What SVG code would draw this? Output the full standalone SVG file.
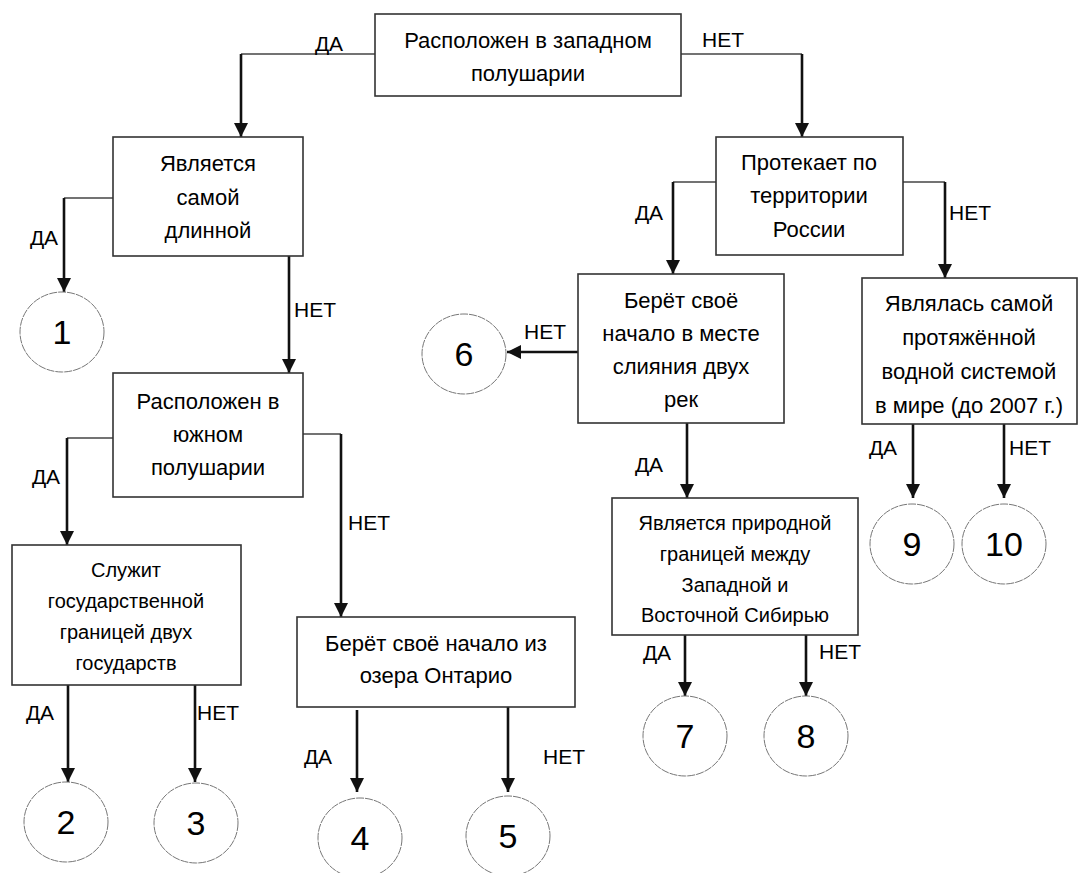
<svg xmlns="http://www.w3.org/2000/svg" width="1081" height="873" viewBox="0 0 1081 873">
<style>
.box{fill:#fff;stroke:#333;stroke-width:1.6}
.circ{fill:#fff;stroke:#777;stroke-width:1;stroke-dasharray:8 1}
.t{font-family:"Liberation Sans",Arial,sans-serif;font-size:22px;fill:#000;text-anchor:middle}
.ts{font-family:"Liberation Sans",Arial,sans-serif;font-size:20px;fill:#000;text-anchor:middle}
.lbl{font-family:"Liberation Sans",Arial,sans-serif;font-size:21px;fill:#000;text-anchor:middle}
.num{font-family:"Liberation Sans",Arial,sans-serif;font-size:34px;fill:#000;text-anchor:middle}
.h{fill:none;stroke:#444;stroke-width:1.6}
.v{fill:none;stroke:#111;stroke-width:2.6;marker-end:url(#ah)}
</style>
<defs>
<marker id="ah" markerUnits="userSpaceOnUse" markerWidth="14" markerHeight="14" viewBox="0 0 14 14" refX="14" refY="7" orient="auto">
<path d="M0,0 L14,7 L0,14 z" fill="#111"/>
</marker>
</defs>
<rect width="1081" height="873" fill="#fff"/>

<g id="connectors">
<path class="h" d="M375,54 H241"/><path class="v" d="M241,54 V137"/>
<path class="h" d="M681,54 H802"/><path class="v" d="M802,54 V137"/>
<path class="h" d="M113,198 H64"/><path class="v" d="M64,198 V292"/>
<path class="v" d="M289,256 V373"/>
<path class="h" d="M113,438 H67"/><path class="v" d="M67,438 V545"/>
<path class="h" d="M303,434 H341"/><path class="v" d="M341,434 V617"/>
<path class="v" d="M68,685 V782"/>
<path class="v" d="M195,685 V782"/>
<path class="v" d="M357,710 V792"/>
<path class="v" d="M508,707 V792"/>
<path class="h" d="M716,182 H673"/><path class="v" d="M673,182 V274"/>
<path class="h" d="M903,182 H945"/><path class="v" d="M945,182 V278"/>
<path class="v" d="M578,352 H507"/>
<path class="v" d="M687,423 V498"/>
<path class="v" d="M685,635 V696"/>
<path class="v" d="M806,635 V696"/>
<path class="v" d="M913,424 V498"/>
<path class="v" d="M1004,424 V498"/>
<text class="lbl" x="329" y="51">ДА</text>
<text class="lbl" x="723" y="47">НЕТ</text>
<text class="lbl" x="44" y="245">ДА</text>
<text class="lbl" x="315" y="317">НЕТ</text>
<text class="lbl" x="46" y="484">ДА</text>
<text class="lbl" x="369" y="530">НЕТ</text>
<text class="lbl" x="40" y="720">ДА</text>
<text class="lbl" x="218" y="720">НЕТ</text>
<text class="lbl" x="318" y="764">ДА</text>
<text class="lbl" x="564" y="764">НЕТ</text>
<text class="lbl" x="649" y="220">ДА</text>
<text class="lbl" x="970" y="220">НЕТ</text>
<text class="lbl" x="545" y="339">НЕТ</text>
<text class="lbl" x="649" y="472">ДА</text>
<text class="lbl" x="657" y="660">ДА</text>
<text class="lbl" x="840" y="659">НЕТ</text>
<text class="lbl" x="883" y="455">ДА</text>
<text class="lbl" x="1030" y="455">НЕТ</text>
</g>

<g id="n-west">
<rect class="box" x="375" y="14" width="306" height="82"/>
<text class="t" x="528" y="48">Расположен в западном</text>
<text class="t" x="528" y="81">полушарии</text>
</g>

<g id="n-longest">
<rect class="box" x="113" y="137" width="190" height="119"/>
<text class="t" x="208" y="171">Является</text>
<text class="t" x="208" y="205">самой</text>
<text class="t" x="208" y="238">длинной</text>
</g>

<g id="n-south">
<rect class="box" x="113" y="373" width="190" height="124"/>
<text class="t" x="208" y="409">Расположен в</text>
<text class="t" x="208" y="442">южном</text>
<text class="t" x="208" y="475">полушарии</text>
</g>

<g id="n-border">
<rect class="box" x="12" y="545" width="229" height="140"/>
<text class="ts" x="126" y="577">Служит</text>
<text class="ts" x="126" y="608">государственной</text>
<text class="ts" x="126" y="639">границей двух</text>
<text class="ts" x="126" y="670">государств</text>
</g>

<g id="n-ontario">
<rect class="box" x="297" y="617" width="278" height="90"/>
<text class="t" x="436" y="651">Берёт своё начало из</text>
<text class="t" x="436" y="683">озера Онтарио</text>
</g>

<g id="n-russia">
<rect class="box" x="716" y="137" width="187" height="118"/>
<text class="t" x="809" y="170">Протекает по</text>
<text class="t" x="809" y="203">территории</text>
<text class="t" x="809" y="237">России</text>
</g>

<g id="n-confluence">
<rect class="box" x="578" y="274" width="206" height="149"/>
<text class="t" x="681" y="308">Берёт своё</text>
<text class="t" x="681" y="341">начало в месте</text>
<text class="t" x="681" y="374">слияния двух</text>
<text class="t" x="681" y="407">рек</text>
</g>

<g id="n-siberia">
<rect class="box" x="612" y="498" width="246" height="137"/>
<text class="ts" x="735" y="530">Является природной</text>
<text class="ts" x="735" y="561">границей между</text>
<text class="ts" x="735" y="592">Западной и</text>
<text class="ts" x="735" y="622">Восточной Сибирью</text>
</g>

<g id="n-system">
<rect class="box" x="862" y="278" width="215" height="146"/>
<text class="t" x="969" y="311">Являлась самой</text>
<text class="t" x="969" y="345">протяжённой</text>
<text class="t" x="969" y="379">водной системой</text>
<text class="t" x="969" y="413">в мире (до 2007 г.)</text>
</g>

<g id="c1"><ellipse class="circ" cx="62" cy="332" rx="42" ry="40"/><text class="num" x="62" y="344">1</text></g>
<g id="c2"><ellipse class="circ" cx="66" cy="822" rx="42" ry="40"/><text class="num" x="66" y="834">2</text></g>
<g id="c3"><ellipse class="circ" cx="196" cy="823" rx="42" ry="40"/><text class="num" x="196" y="835">3</text></g>
<g id="c4"><ellipse class="circ" cx="360" cy="838" rx="42" ry="40"/><text class="num" x="360" y="850">4</text></g>
<g id="c5"><ellipse class="circ" cx="508" cy="836" rx="42" ry="40"/><text class="num" x="508" y="848">5</text></g>
<g id="c6"><ellipse class="circ" cx="464" cy="354" rx="42" ry="40"/><text class="num" x="464" y="366">6</text></g>
<g id="c7"><ellipse class="circ" cx="685" cy="736" rx="42" ry="40"/><text class="num" x="685" y="748">7</text></g>
<g id="c8"><ellipse class="circ" cx="806" cy="736" rx="42" ry="40"/><text class="num" x="806" y="748">8</text></g>
<g id="c9"><ellipse class="circ" cx="912" cy="544" rx="42" ry="40"/><text class="num" x="912" y="556">9</text></g>
<g id="c10"><ellipse class="circ" cx="1004" cy="544" rx="42" ry="40"/><text class="num" x="1004" y="556">10</text></g>
</svg>
